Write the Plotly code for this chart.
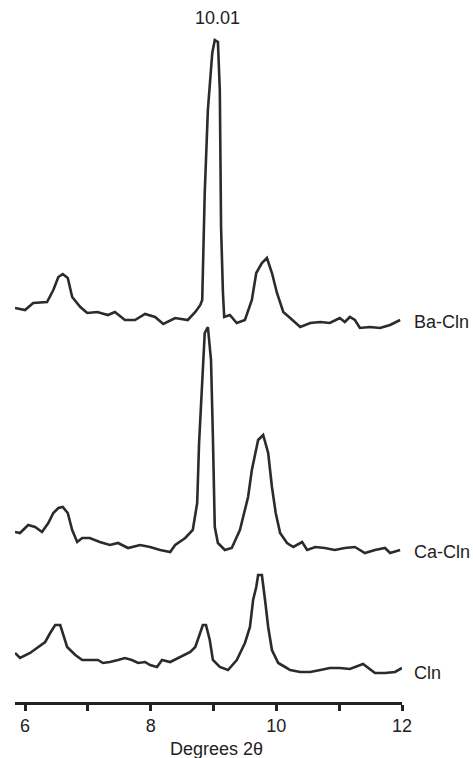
import plotly.graph_objects as go

# Degrees 2-theta and intensity (a.u., traces offset vertically)
ba_x = [5.84, 6.00, 6.13, 6.35, 6.45, 6.53, 6.60, 6.68, 6.75, 6.88, 6.99, 7.15, 7.32, 7.43, 7.59, 7.75,
        7.91, 8.07, 8.20, 8.39, 8.59, 8.71, 8.79, 8.82, 8.83, 8.86, 8.91, 8.98, 9.02, 9.07, 9.10, 9.12,
        9.15, 9.17, 9.26, 9.37, 9.50, 9.61, 9.68, 9.77, 9.85, 9.93, 10.01, 10.11, 10.22, 10.38, 10.54,
        10.70, 10.85, 11.01, 11.09, 11.17, 11.25, 11.33, 11.49, 11.65, 11.81, 11.97]
ba_y = [394, 392, 399, 400, 412, 425, 428, 424, 405, 395, 389, 390, 387, 390, 382, 382,
        388, 385, 378, 384, 382, 390, 397, 402, 429, 509, 592, 649, 662, 660, 612, 475,
        409, 385, 387, 379, 382, 402, 429, 439, 444, 429, 409, 390, 384, 375, 379,
        380, 379, 384, 380, 385, 382, 374, 375, 374, 377, 382]

ca_x = [5.84, 5.92, 6.05, 6.16, 6.27, 6.37, 6.45, 6.53, 6.60, 6.68, 6.75, 6.83, 6.91, 7.03, 7.19, 7.35,
        7.48, 7.64, 7.83, 7.99, 8.15, 8.31, 8.39, 8.55, 8.67, 8.74, 8.77, 8.82, 8.86, 8.91, 8.96, 8.99,
        9.02, 9.07, 9.18, 9.29, 9.42, 9.55, 9.61, 9.71, 9.79, 9.87, 9.93, 9.99, 10.06, 10.17, 10.27,
        10.41, 10.49, 10.62, 10.77, 10.93, 11.09, 11.25, 11.41, 11.57, 11.73, 11.81, 11.97]
ca_y = [170, 169, 177, 175, 170, 179, 189, 194, 195, 189, 172, 160, 164, 164, 160, 157,
        159, 154, 157, 155, 152, 150, 157, 164, 172, 199, 259, 322, 369, 375, 342, 265,
        175, 159, 152, 154, 172, 205, 232, 262, 267, 249, 215, 189, 169, 159, 155,
        160, 152, 155, 154, 152, 154, 155, 149, 152, 154, 149, 152]

cln_x = [5.84, 5.92, 6.08, 6.21, 6.32, 6.40, 6.48, 6.56, 6.60, 6.67, 6.80, 6.91, 7.03, 7.16, 7.24, 7.35,
         7.48, 7.59, 7.70, 7.80, 7.91, 7.99, 8.10, 8.18, 8.31, 8.47, 8.63, 8.71, 8.79, 8.83, 8.88, 8.94,
         8.99, 9.10, 9.23, 9.37, 9.50, 9.58, 9.63, 9.68, 9.71, 9.77, 9.82, 9.87, 9.93, 10.03, 10.14,
         10.22, 10.38, 10.54, 10.70, 10.85, 11.01, 11.17, 11.38, 11.57, 11.73, 11.89, 12.00]
cln_y = [49, 44, 49, 55, 60, 69, 77, 77, 69, 55, 47, 42, 42, 42, 39, 40,
         42, 44, 42, 39, 40, 37, 35, 42, 40, 45, 50, 55, 69, 77, 77, 62,
         42, 35, 32, 42, 59, 75, 102, 115, 127, 127, 102, 75, 52, 39, 35,
         32, 30, 30, 32, 34, 34, 33, 38, 29, 29, 30, 34]

series_names = ["Ba-Cln", "Ca-Cln", "Cln"]
label_y = [380, 150, 29]
tick_vals = [6, 7, 8, 9, 10, 11, 12]
tick_text = ["6", "", "8", "", "10", "", "12"]

line_color = "#2b2b2b"
fig = go.Figure()
for xs, ys, nm in [(ba_x, ba_y, series_names[0]), (ca_x, ca_y, series_names[1]), (cln_x, cln_y, series_names[2])]:
    fig.add_trace(go.Scatter(x=xs, y=ys, mode="lines", name=nm,
                             line=dict(color=line_color, width=2.6), hoverinfo="skip"))

font = "Liberation Sans, Arial, sans-serif"
annotations = []
for nm, ly in zip(series_names, label_y):
    annotations.append(dict(x=1.026, y=ly, xref="paper", yref="y", text=nm, showarrow=False,
                            xanchor="left", yanchor="middle",
                            font=dict(family=font, size=18, color="#222")))
annotations.append(dict(x=9.07, y=684, xref="x", yref="y", text="10.01", showarrow=False,
                        xanchor="center", yanchor="middle",
                        font=dict(family=font, size=18, color="#222")))
annotations.append(dict(x=(9.05 - 5.84) / 6.16, y=-0.068, xref="paper", yref="paper",
                        text="Degrees 2θ", showarrow=False,
                        xanchor="center", yanchor="middle",
                        font=dict(family=font, size=18, color="#222")))

fig.update_layout(
    width=473, height=758,
    margin=dict(l=15, r=71, t=10, b=56),
    paper_bgcolor="white", plot_bgcolor="white",
    showlegend=False,
    annotations=annotations,
    xaxis=dict(range=[5.84, 12.0], tickvals=tick_vals, ticktext=tick_text,
               ticks="outside", ticklen=6, tickwidth=3, tickcolor="#222",
               showline=True, linecolor="#222", linewidth=2.5,
               showgrid=False, zeroline=False,
               tickfont=dict(family=font, size=18, color="#222")),
    yaxis=dict(range=[0, 692], visible=False, showgrid=False, zeroline=False),
)

fig.write_html("out.html")
